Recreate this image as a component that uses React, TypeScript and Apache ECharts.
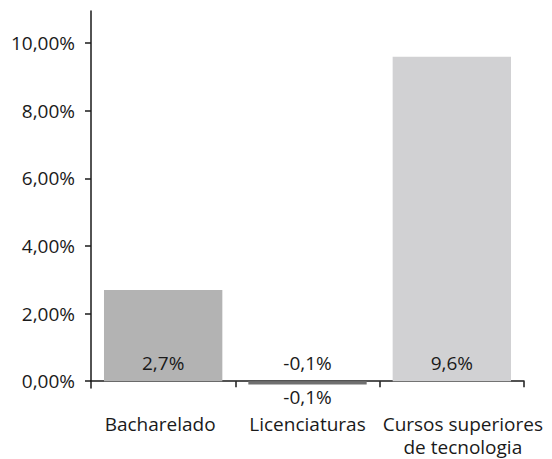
import React, { useEffect, useRef } from "react";
import * as echarts from "echarts";

const categories = ["Bacharelado", "Licenciaturas", "Cursos superiores\nde tecnologia"];
const values = [2.7, -0.1, 9.6];
const barColors = ["#b3b3b3", "#707070", "#d1d1d3"];
const yTicks = [0, 2, 4, 6, 8, 10];
const labelPads = [[0, 6, 0, 0], [0, 0, 0, 0], [0, 0, 0, 22]];

const FONT = "Open Sans";
const FS = 19;
const fmtPct1 = (v: number) => v.toFixed(1).replace(".", ",") + "%";
const fmtPct2 = (v: number) => v.toFixed(2).replace(".", ",") + "%";

export default function App() {
  const ref = useRef<HTMLDivElement>(null);
  useEffect(() => {
    if (!ref.current) return;
    const chart = echarts.init(ref.current, null, { renderer: "svg" });
    chart.setOption({
      animation: false,
      backgroundColor: "#ffffff",
      textStyle: { fontFamily: FONT },
      grid: { left: 91, right: 28, top: 11, bottom: 71, containLabel: false },
      xAxis: {
        type: "category",
        data: categories.map((c, i) => ({
          value: c,
          textStyle: { padding: labelPads[i] },
        })),
        boundaryGap: true,
        axisLine: { onZero: true, lineStyle: { color: "#1a1a1a", width: 1.5 } },
        axisTick: {
          show: true,
          length: 6,
          inside: false,
          interval: (i: number) => i > 0,
          lineStyle: { color: "#1a1a1a", width: 1.5 },
        },
        axisLabel: {
          color: "#1a1a1a",
          fontFamily: FONT,
          fontSize: FS,
          lineHeight: 23,
          margin: 24,
          interval: 0,
        },
        splitLine: { show: false },
      },
      yAxis: {
        type: "value",
        min: -0.2,
        max: 10.95,
        axisLine: { show: true, onZero: false, lineStyle: { color: "#1a1a1a", width: 1.5 } },
        axisTick: {
          show: true,
          length: 6,
          customValues: yTicks,
          lineStyle: { color: "#1a1a1a", width: 1.5 },
        },
        axisLabel: {
          color: "#1a1a1a",
          fontFamily: FONT,
          fontSize: FS,
          margin: 16,
          customValues: yTicks,
          formatter: (v: number) => fmtPct2(v),
        },
        splitLine: { show: false },
      },
      series: [
        {
          type: "bar",
          barCategoryGap: "18%",
          data: values.map((v, i) => ({
            value: v,
            itemStyle: { color: barColors[i] },
            label: {
              show: true,
              position: v < 0 ? "top" : "insideBottom",
              distance: 9,
            },
          })),
          label: {
            show: true,
            color: "#1a1a1a",
            fontFamily: FONT,
            fontSize: FS,
            formatter: (p: any) => fmtPct1(p.value),
          },
          z: 2,
        },
        {
          type: "bar",
          barGap: "-100%",
          barCategoryGap: "18%",
          data: values.map((v) => ({
            value: v,
            itemStyle: { color: "rgba(0,0,0,0)" },
            label: { show: v < 0, position: "bottom", distance: 3 },
          })),
          label: {
            color: "#1a1a1a",
            fontFamily: FONT,
            fontSize: FS,
            formatter: (p: any) => fmtPct1(p.value),
          },
          silent: true,
          z: 3,
        },
      ],
    });
    return () => chart.dispose();
  }, []);
  return (
    <div
      ref={ref}
      style={{ position: "fixed", left: 0, top: 0, width: 552, height: 459 }}
    />
  );
}
